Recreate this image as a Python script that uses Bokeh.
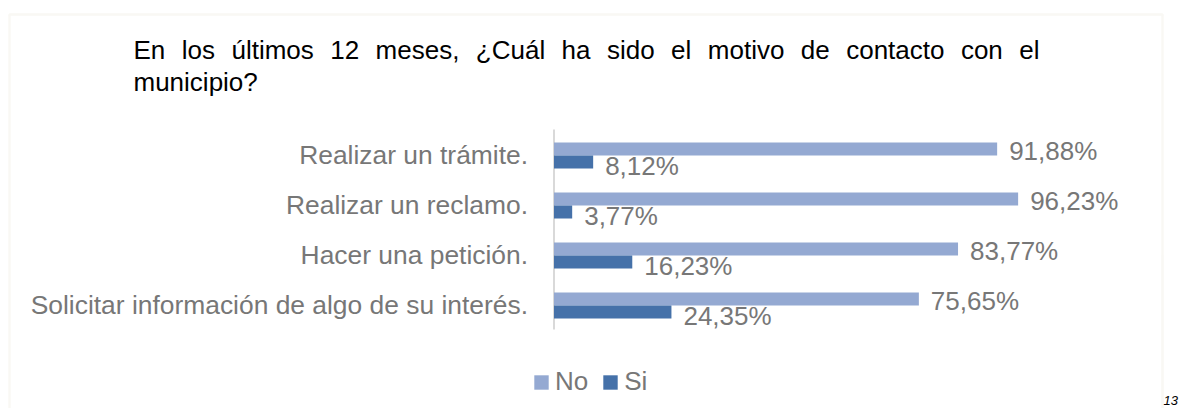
from bokeh.plotting import figure
from bokeh.models import (Range1d, ColumnDataSource, LabelSet, Label,
                          BoxAnnotation, Legend, LegendItem)
from bokeh.core.properties import value
from bokeh.transform import dodge
from bokeh.embed import file_html
from bokeh.resources import INLINE

# ---------------- data ----------------
categories = ["Realizar un trámite.", "Realizar un reclamo.", "Hacer una petición.",
              "Solicitar información de algo de su interés."]
series_names = ["No", "Si"]
no_values = [91.88, 96.23, 83.77, 75.65]
si_values = [8.12, 3.77, 16.23, 24.35]
title_line1 = "En los últimos 12 meses, ¿Cuál ha sido el motivo de contacto con el"
title_line2 = "municipio?"
page_number = "13"

# ---------------- style ----------------
NO_COLOR = "#94A9D2"
SI_COLOR = "#4571A9"
TXT_GRAY = "#777777"
FONT = "Liberation Sans"
FS = "26px"
CAT_FS = "26.4px"
W, H = 1182, 408


def fmt(v):
    return f"{v:.2f}".replace(".", ",") + "%"


# Arial / Liberation Sans advance widths (1/1000 em) for justification of title
AW = {" ": 278, "¿": 611, ",": 278, "?": 556, "1": 556, "2": 556, "E": 667, "C": 722,
      "a": 556, "c": 500, "d": 556, "e": 556, "h": 556, "i": 222, "l": 222, "m": 833,
      "n": 556, "o": 556, "p": 556, "s": 500, "t": 278, "u": 556, "v": 500, "ú": 556,
      "á": 556}


def text_w(s, size):
    return sum(AW.get(ch, 556) for ch in s) * size / 1000.0


n = len(categories)
ypos = [n - 1 - i for i in range(n)]  # first category on top
src = ColumnDataSource(dict(cat=categories, y=ypos, no=no_values, si=si_values,
                            no_lbl=[fmt(v) for v in no_values],
                            si_lbl=[fmt(v) for v in si_values]))

p = figure(width=W, height=H, output_backend="svg", toolbar_location=None,
           x_range=Range1d(-114.76, 130.31), y_range=Range1d(-2.08, 6.08),
           x_axis_location=None, y_axis_location=None,
           min_border_left=0, min_border_right=0, min_border_top=0,
           min_border_bottom=0)
p.outline_line_color = None
p.xgrid.visible = False
p.ygrid.visible = False
p.background_fill_color = "white"
p.border_fill_color = "white"

# category axis line
p.segment(x0=0, y0=-0.5, x1=0, y1=n - 0.5, line_color="#D9D9D9", line_width=2)

r_no = p.hbar(y=dodge("y", 0.11), left=0, right="no", height=0.26,
              fill_color=NO_COLOR, line_color=None, source=src)
r_si = p.hbar(y=dodge("y", -0.15), left=0, right="si", height=0.26,
              fill_color=SI_COLOR, line_color=None, source=src)

# category labels (left of the axis line)
p.add_layout(LabelSet(x=0, y="y", text="cat", source=src, x_offset=-26, y_offset=0,
                      text_baseline="middle", text_align="right",
                      text_font_size=CAT_FS, text_color=TXT_GRAY, text_font=value(FONT)))

# value labels
for col, lbl, off, yo in (("no", "no_lbl", 0.11, -2), ("si", "si_lbl", -0.15, -4)):
    p.add_layout(LabelSet(x=col, y=dodge("y", off), text=lbl,
                          source=src, x_offset=12, y_offset=yo,
                          text_baseline="middle", text_align="left",
                          text_font_size=FS, text_color=TXT_GRAY,
                          text_font=value(FONT)))

legend = Legend(items=[LegendItem(label=series_names[0], renderers=[r_no]),
                       LegendItem(label=series_names[1], renderers=[r_si])],
                location=(532, 11), orientation="horizontal", padding=0, margin=0,
                spacing=13, label_standoff=5, glyph_width=18, glyph_height=18,
                border_line_color=None, background_fill_alpha=0,
                label_text_font_size=FS, label_text_color=TXT_GRAY,
                label_text_font=FONT)
p.add_layout(legend, "center")

# outer frame (chart area border)
p.add_layout(BoxAnnotation(left=9, right=1162, top=14, bottom=H + 40,
                           left_units="canvas", right_units="canvas",
                           top_units="canvas", bottom_units="canvas",
                           fill_alpha=0, line_color="#EBE7DB", line_width=2.5,
                           level="underlay"))

# justified title
TS = 26
x0, x1 = 133, 1039
words = title_line1.split(" ")
widths = [text_w(w_, TS) for w_ in words]
gap = (x1 - x0 - sum(widths)) / (len(words) - 1)
xpos = x0
for w_, ww in zip(words, widths):
    p.add_layout(Label(x=xpos, y=49, x_units="canvas", y_units="canvas", text=w_,
                       text_font_size=f"{TS}px", text_color="black", text_font=FONT,
                       text_baseline="alphabetic", text_align="left"))
    xpos += ww + gap
p.add_layout(Label(x=x0, y=81, x_units="canvas", y_units="canvas", text=title_line2,
                   text_font_size=f"{TS}px", text_color="black", text_font=FONT,
                   text_baseline="alphabetic", text_align="left"))

# page number
p.add_layout(Label(x=1163, y=400, x_units="canvas", y_units="canvas", text=page_number,
                   text_font_size="13px", text_font_style="italic", text_color="black",
                   text_font=FONT, text_baseline="alphabetic", text_align="left"))

open("out.html", "w").write(file_html(p, INLINE))
